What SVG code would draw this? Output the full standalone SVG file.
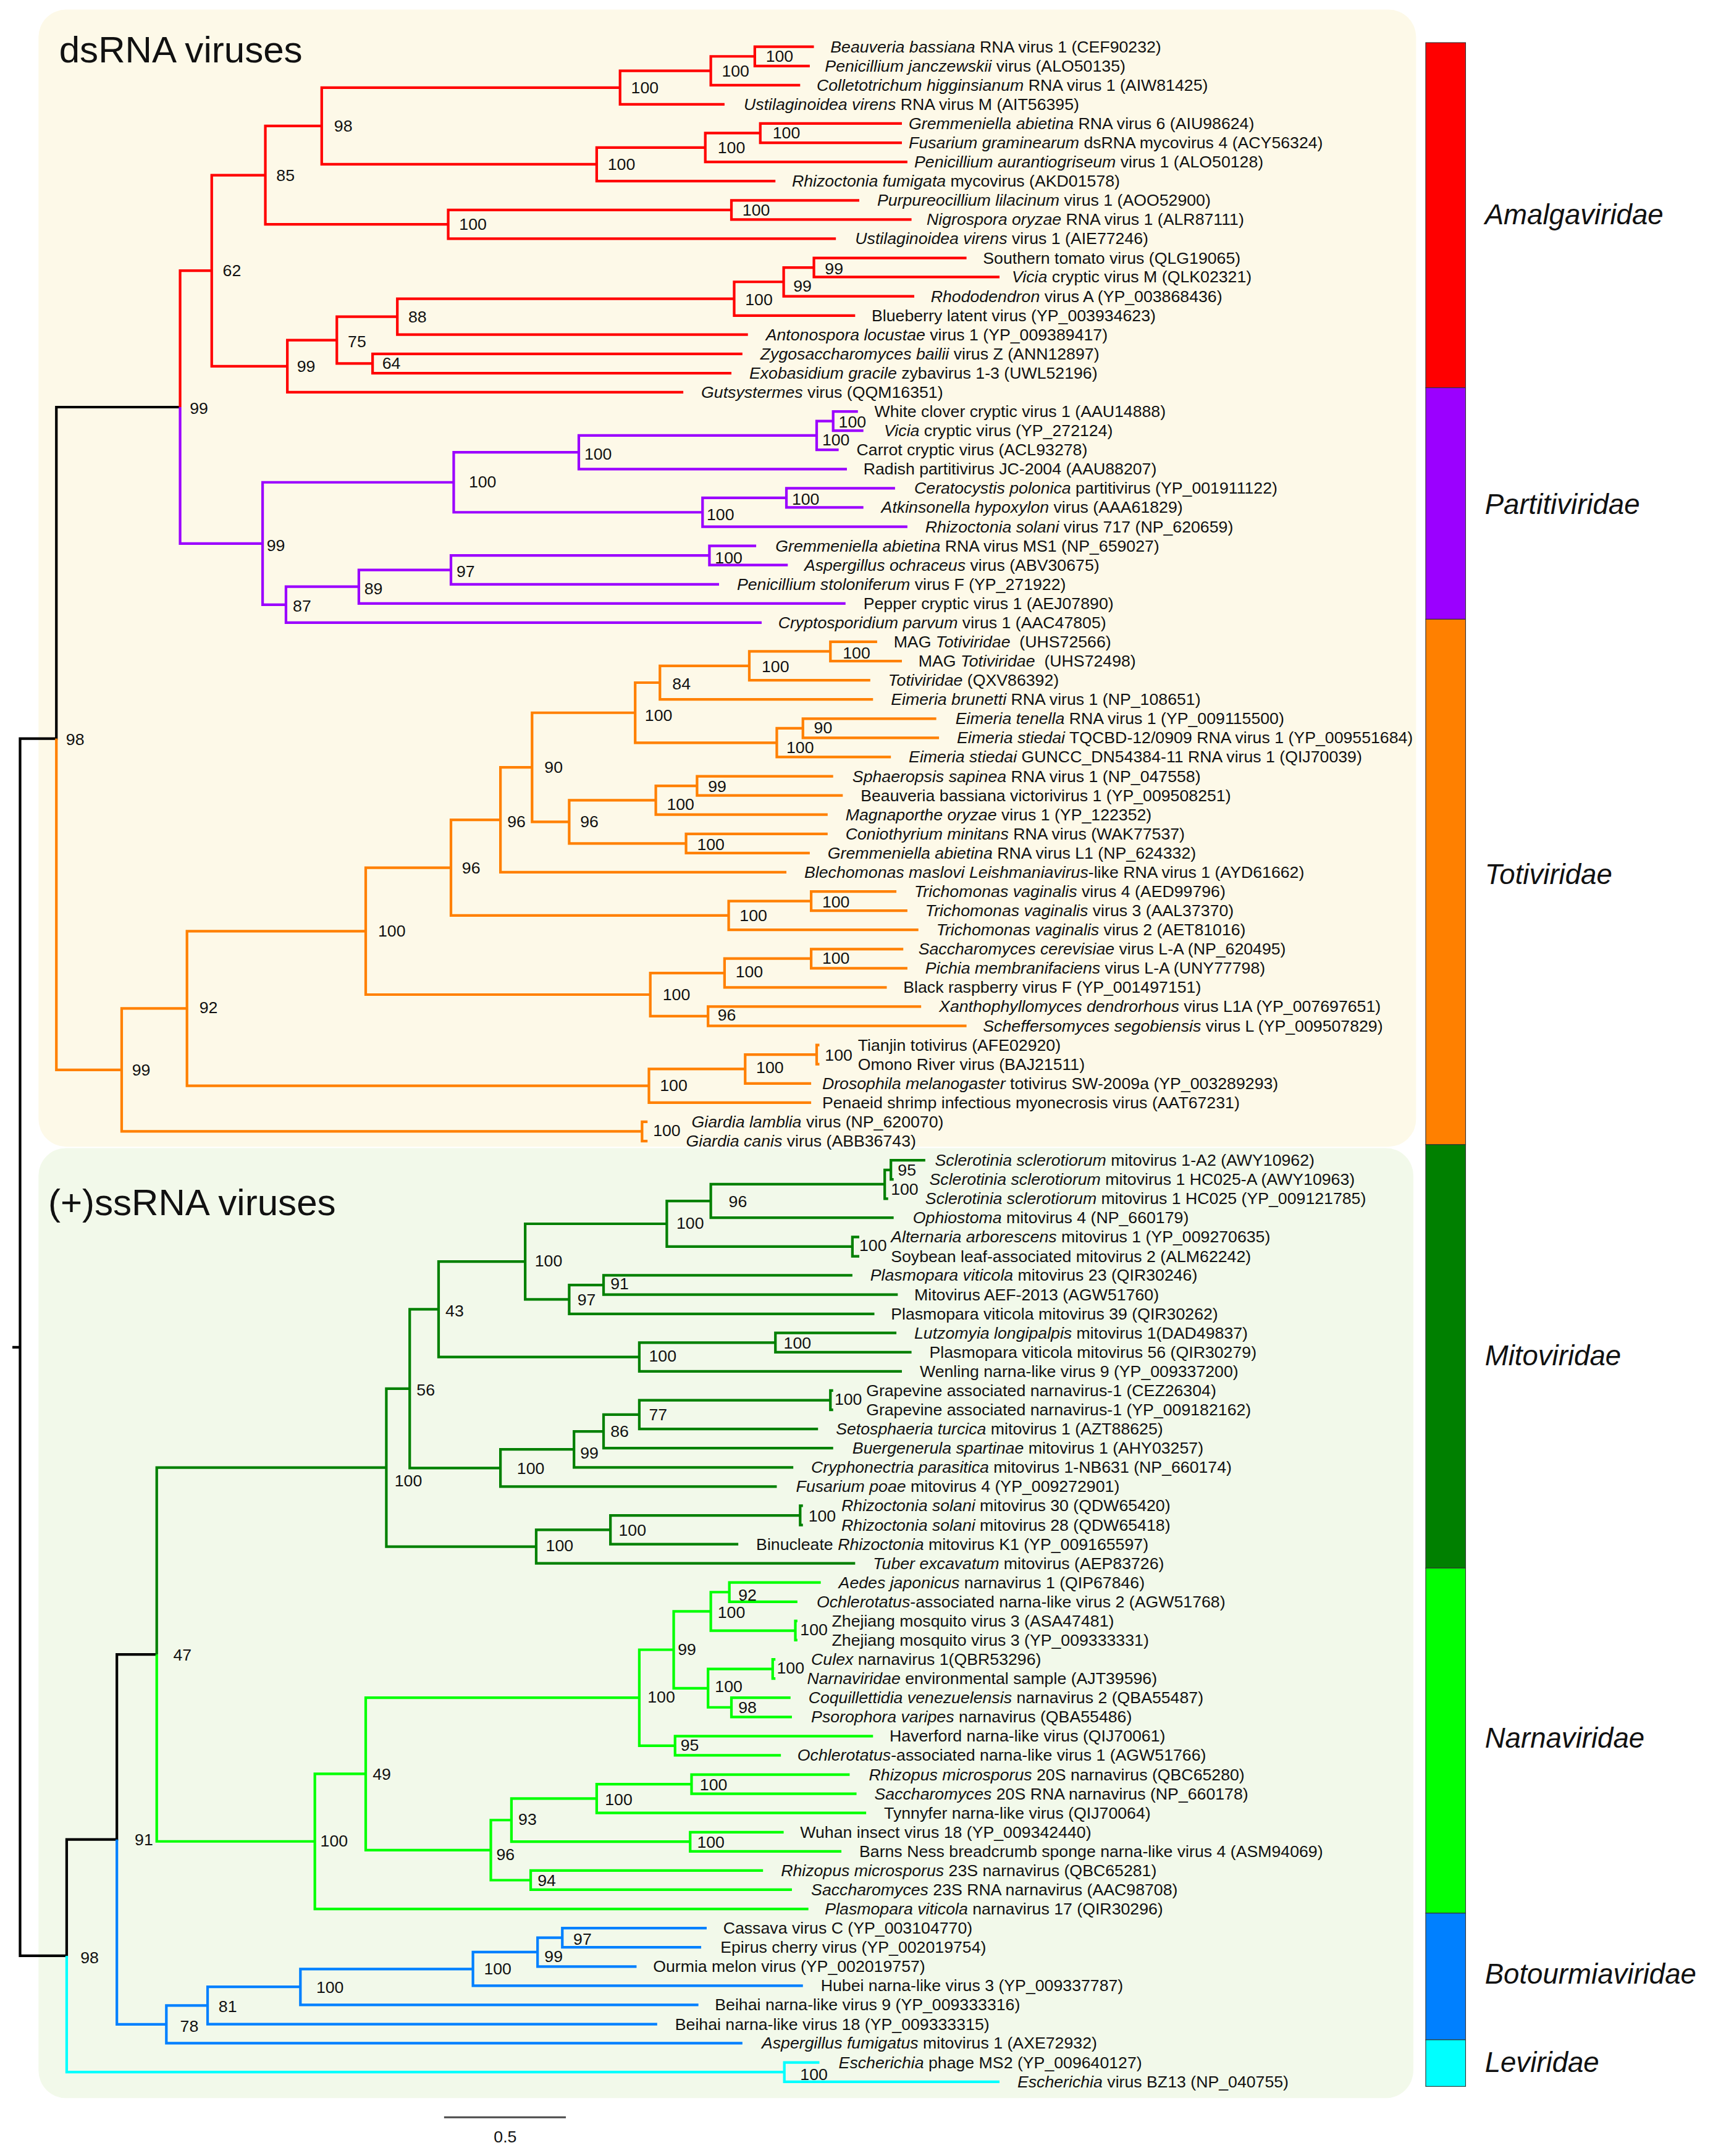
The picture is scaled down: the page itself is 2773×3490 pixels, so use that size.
<svg xmlns="http://www.w3.org/2000/svg" width="2773" height="3490" viewBox="0 0 2773 3490">
<style>
text{font-family:"Liberation Sans",Arial,Helvetica,sans-serif;fill:#111}
.t,.b{font-size:12px;dominant-baseline:central}
.i{font-style:italic}
.fam{font-size:20.5px;font-style:italic;dominant-baseline:central}
.ttl{font-size:27px}
.br{fill:none;stroke-width:1.9;stroke-linejoin:miter;stroke-linecap:butt}
.k{stroke:#000}.r{stroke:#FF0000}.p{stroke:#9B00FF}.o{stroke:#FF8000}.dg{stroke:#008000}.g{stroke:#00FF00}.bl{stroke:#0080FF}.c{stroke:#00FFFF}
.seg{stroke:#333;stroke-width:0.5}
</style>
<rect width="2773" height="3490" fill="#FFFFFF"/>
<g transform="scale(2.2256)">
<g id="panels">
<rect x="28" y="7" width="1002" height="827" rx="20" fill="#FDF9E8"/>
<rect x="28" y="835" width="1000" height="691" rx="20" fill="#F2F9EA"/>
<text class="ttl" x="43" y="45.5">dsRNA viruses</text>
<text class="ttl" x="35" y="884">(+)ssRNA viruses</text>
</g>
<g id="connectors">
<path class="br k" d="M131 296.1 H41 V537.2 H14.6 V1422.5 H48.5 V1337.9 H85 V1203.35 H114 M9 979.9 H14.6"/>
<path class="br r" d="M592 34 H549 V48 H589 M549 41 H517 V61.9 H582 M517 51.5 H451 V75.9 H527 M656 89.8 H553 V103.8 H656 M553 96.8 H513 V117.8 H660 M513 107.3 H434 V131.7 H564 M451 63.7 H234 V119.5 H434 M625 145.7 H532 V159.7 H663 M532 152.7 H326 V173.6 H608 M234 91.6 H193 V163.2 H326 M703 187.6 H592 V201.5 H727 M592 194.6 H570 V215.5 H665 M570 205 H534 V229.5 H622 M534 217.3 H289 V243.4 H544 M540 257.4 H271 V271.4 H532 M289 230.3 H245 V264.4 H271 M245 247.4 H209 V285.3 H497 M193 127.4 H154 V266.4 H209 M154 196.9 H131 V296.1"/>
<path class="br p" d="M131 296.1 V395.3 H191 M624 299.3 H606 V313.2 H628 M606 306.3 H594 V327.2 H610 M594 316.7 H421 V341.2 H616 M651 355.1 H572 V369.1 H628 M572 362.1 H511 V383.1 H660 M421 329 H330 V372.6 H511 M550 397 H516 V411 H573 M516 404 H328 V425 H523 M328 414.5 H261 V438.9 H615 M261 426.7 H208 V452.9 H554 M330 350.8 H191 V439.8 H208"/>
<path class="br o" d="M41 537.2 V778.2 H88.5 M638 466.8 H604 V480.8 H656 M604 473.8 H545 V494.8 H633 M545 484.3 H480 V508.7 H635 M681 522.7 H584 V536.7 H683 M584 529.7 H565 V550.6 H648 M480 496.5 H462 V540.2 H565 M606 564.6 H507 V578.6 H613 M507 571.6 H477 V592.5 H602 M602 606.5 H499 V620.4 H589 M477 582 H414 V613.5 H499 M462 518.4 H387 V597.8 H414 M387 558.1 H364 V634.4 H572 M652 648.4 H590 V662.3 H660 M590 655.4 H530 V676.3 H668 M364 596.3 H328 V665.8 H530 M657 690.3 H590 V704.2 H660 M590 697.2 H527 V718.2 H645 M670 732.1 H515 V746.1 H703 M527 707.7 H473 V739.1 H515 M328 631.1 H266 V723.4 H473 M596 760.1 H594 V774 H596 M594 767 H542 V788 H590 M542 777.5 H472 V802 H590 M266 677.3 H136 V789.7 H472 M471 815.9 H467 V829.9 H471 M136 733.5 H88.5 V822.9 H467"/>
<path class="br dg" d="M114 1203.35 V1067.4 H281 M673 843.9 H648 V857.8 H650 M648 850.9 H643.5 V871.8 H646 M643.5 861.3 H517 V885.7 H650 M625 899.7 H620 V913.7 H625 M517 873.5 H485 V906.7 H620 M620 927.6 H439 V941.6 H653 M439 934.6 H414 V955.6 H636 M485 890.1 H382 V945.1 H414 M652 969.5 H564 V983.5 H663 M564 976.5 H465 V997.4 H656 M382 917.6 H319 V987 H465 M606 1011.4 H604 V1025.4 H606 M604 1018.4 H465 V1039.3 H595 M465 1028.9 H439 V1053.3 H606 M439 1041.1 H417.5 V1067.3 H577 M417.5 1054.2 H364 V1081.2 H565 M319 952.3 H298 V1067.7 H364 M584 1095.2 H582 V1109.2 H584 M582 1102.2 H444 V1123.1 H537 M444 1112.7 H390 V1137.1 H622 M298 1010 H281 V1124.9 H390"/>
<path class="br g" d="M114 1203.35 V1339.3 H229 M597 1151 H530.5 V1165 H580 M580 1179 H578.5 V1192.9 H580 M530.5 1158 H517 V1186 H578.5 M564 1206.9 H562 V1220.9 H564 M575 1234.8 H532 V1248.8 H576 M562 1213.9 H515 V1241.8 H532 M517 1172 H490 V1227.9 H515 M635 1262.7 H491 V1276.7 H568 M490 1199.9 H465 V1269.7 H491 M618 1290.7 H503 V1304.6 H623 M503 1297.7 H434 V1318.6 H630 M570 1332.6 H502 V1346.5 H612 M434 1308.1 H372 V1339.5 H502 M555 1360.5 H386 V1374.4 H576 M372 1323.8 H357 V1367.5 H386 M465 1234.8 H266 V1345.6 H357 M266 1290.2 H229 V1388.4 H588"/>
<path class="br bl" d="M85 1337.9 V1472.4 H121 M514 1402.4 H409 V1416.3 H510 M409 1409.35 H391 V1430.3 H463 M391 1419.8 H344 V1444.3 H584 M344 1432.1 H218.5 V1458.2 H508 M218.5 1445.1 H151 V1472.2 H478 M151 1458.7 H121 V1486.1 H540"/>
<path class="br c" d="M48.5 1422.5 V1507.1 H570.5 M596 1500.1 H570.5 V1514.1 H727"/>
</g>
<g id="support">
<text class="b" x="557" y="41">100</text><text class="b" x="525" y="51.5">100</text><text class="b" x="459" y="63.7">100</text><text class="b" x="562" y="96.8">100</text><text class="b" x="522" y="107.3">100</text><text class="b" x="442" y="119.5">100</text><text class="b" x="243" y="91.6">98</text><text class="b" x="540" y="152.7">100</text><text class="b" x="334" y="163.2">100</text><text class="b" x="201" y="127.4">85</text><text class="b" x="600" y="195.5">99</text><text class="b" x="577" y="207.9">99</text><text class="b" x="542" y="218">100</text><text class="b" x="297" y="230.7">88</text><text class="b" x="278" y="264.4">64</text><text class="b" x="253" y="248.6">75</text><text class="b" x="216" y="266.6">99</text><text class="b" x="162" y="197">62</text><text class="b" x="138" y="297">99</text>
<text class="b" x="610" y="307">100</text><text class="b" x="598" y="319.8">100</text><text class="b" x="425" y="330.3">100</text><text class="b" x="576" y="363">100</text><text class="b" x="514" y="374.5">100</text><text class="b" x="341" y="350.5">100</text><text class="b" x="520" y="405.6">100</text><text class="b" x="332" y="415.6">97</text><text class="b" x="265" y="428.4">89</text><text class="b" x="213" y="441">87</text><text class="b" x="194" y="396.6">99</text>
<text class="b" x="613" y="474.8">100</text><text class="b" x="554" y="485">100</text><text class="b" x="489" y="497.6">84</text><text class="b" x="592" y="529.4">90</text><text class="b" x="572" y="543.7">100</text><text class="b" x="469" y="520.5">100</text><text class="b" x="515" y="572">99</text><text class="b" x="485" y="584.9">100</text><text class="b" x="507" y="614">100</text><text class="b" x="422" y="597.6">96</text><text class="b" x="396" y="557.9">90</text><text class="b" x="369" y="597.6">96</text><text class="b" x="598" y="656">100</text><text class="b" x="538" y="666">100</text><text class="b" x="336" y="631.3">96</text><text class="b" x="598" y="697">100</text><text class="b" x="535" y="707">100</text><text class="b" x="522" y="738.4">96</text><text class="b" x="482" y="723.4">100</text><text class="b" x="275" y="677">100</text><text class="b" x="600" y="767.6">100</text><text class="b" x="550" y="776.6">100</text><text class="b" x="480" y="789.4">100</text><text class="b" x="145" y="733">92</text><text class="b" x="475" y="822.3">100</text><text class="b" x="96" y="778">99</text><text class="b" x="48" y="537.7">98</text>
<text class="b" x="653" y="850.8">95</text><text class="b" x="648" y="865">100</text><text class="b" x="530" y="874">96</text><text class="b" x="625" y="906">100</text><text class="b" x="492" y="889.8">100</text><text class="b" x="444" y="933.9">91</text><text class="b" x="420" y="945.2">97</text><text class="b" x="389" y="917">100</text><text class="b" x="570" y="976.6">100</text><text class="b" x="472" y="986.4">100</text><text class="b" x="324" y="953.4">43</text><text class="b" x="607" y="1017.8">100</text><text class="b" x="472" y="1029">77</text><text class="b" x="444" y="1041">86</text><text class="b" x="422" y="1056.7">99</text><text class="b" x="376" y="1068">100</text><text class="b" x="303" y="1011">56</text><text class="b" x="588" y="1102.4">100</text><text class="b" x="450" y="1112.9">100</text><text class="b" x="397" y="1124.1">100</text><text class="b" x="287" y="1077">100</text>
<text class="b" x="537" y="1160">92</text><text class="b" x="582" y="1185.5">100</text><text class="b" x="522" y="1172.8">100</text><text class="b" x="565" y="1213.2">100</text><text class="b" x="537" y="1241.7">98</text><text class="b" x="520" y="1226.7">100</text><text class="b" x="493" y="1199.8">99</text><text class="b" x="495" y="1269.4">95</text><text class="b" x="471" y="1234.2">100</text><text class="b" x="509" y="1297.9">100</text><text class="b" x="440" y="1309">100</text><text class="b" x="507" y="1339.8">100</text><text class="b" x="377" y="1323.3">93</text><text class="b" x="391" y="1367.5">94</text><text class="b" x="361" y="1348.8">96</text><text class="b" x="271" y="1290.4">49</text><text class="b" x="233" y="1339">100</text><text class="b" x="126" y="1203.5">47</text>
<text class="b" x="417" y="1410.2">97</text><text class="b" x="396" y="1423">99</text><text class="b" x="352" y="1431.9">100</text><text class="b" x="230" y="1445.4">100</text><text class="b" x="159" y="1459.6">81</text><text class="b" x="131" y="1473.8">78</text><text class="b" x="98" y="1338">91</text><text class="b" x="582" y="1509">100</text><text class="b" x="58.5" y="1423.7">98</text>
</g>
<g id="tips">
<g id="tip-1"><text class="t" x="604" y="34"><tspan class="i">Beauveria bassiana</tspan> RNA virus 1 (CEF90232)</text></g>
<g id="tip-2"><text class="t" x="600" y="48"><tspan class="i">Penicillium janczewskii</tspan> virus (ALO50135)</text></g>
<g id="tip-3"><text class="t" x="594" y="61.9"><tspan class="i">Colletotrichum higginsianum</tspan> RNA virus 1 (AIW81425)</text></g>
<g id="tip-4"><text class="t" x="541" y="75.9"><tspan class="i">Ustilaginoidea virens</tspan> RNA virus M (AIT56395)</text></g>
<g id="tip-5"><text class="t" x="661" y="89.8"><tspan class="i">Gremmeniella abietina</tspan> RNA virus 6 (AIU98624)</text></g>
<g id="tip-6"><text class="t" x="661" y="103.8"><tspan class="i">Fusarium graminearum</tspan> dsRNA mycovirus 4 (ACY56324)</text></g>
<g id="tip-7"><text class="t" x="665" y="117.8"><tspan class="i">Penicillium aurantiogriseum</tspan> virus 1 (ALO50128)</text></g>
<g id="tip-8"><text class="t" x="576" y="131.7"><tspan class="i">Rhizoctonia fumigata</tspan> mycovirus (AKD01578)</text></g>
<g id="tip-9"><text class="t" x="638" y="145.7"><tspan class="i">Purpureocillium lilacinum</tspan> virus 1 (AOO52900)</text></g>
<g id="tip-10"><text class="t" x="674" y="159.7"><tspan class="i">Nigrospora oryzae</tspan> RNA virus 1 (ALR87111)</text></g>
<g id="tip-11"><text class="t" x="622" y="173.6"><tspan class="i">Ustilaginoidea virens</tspan> virus 1 (AIE77246)</text></g>
<g id="tip-12"><text class="t" x="715" y="187.6">Southern tomato virus (QLG19065)</text></g>
<g id="tip-13"><text class="t" x="736" y="201.5"><tspan class="i">Vicia</tspan> cryptic virus M (QLK02321)</text></g>
<g id="tip-14"><text class="t" x="677" y="215.5"><tspan class="i">Rhododendron</tspan> virus A (YP_003868436)</text></g>
<g id="tip-15"><text class="t" x="634" y="229.5">Blueberry latent virus (YP_003934623)</text></g>
<g id="tip-16"><text class="t" x="557" y="243.4"><tspan class="i">Antonospora locustae</tspan> virus 1 (YP_009389417)</text></g>
<g id="tip-17"><text class="t" x="553" y="257.4"><tspan class="i">Zygosaccharomyces bailii</tspan> virus Z (ANN12897)</text></g>
<g id="tip-18"><text class="t" x="545" y="271.4"><tspan class="i">Exobasidium gracile</tspan> zybavirus 1-3 (UWL52196)</text></g>
<g id="tip-19"><text class="t" x="510" y="285.3"><tspan class="i">Gutsystermes</tspan> virus (QQM16351)</text></g>
<g id="tip-20"><text class="t" x="636" y="299.3">White clover cryptic virus 1 (AAU14888)</text></g>
<g id="tip-21"><text class="t" x="643" y="313.2"><tspan class="i">Vicia</tspan> cryptic virus (YP_272124)</text></g>
<g id="tip-22"><text class="t" x="623" y="327.2">Carrot cryptic virus (ACL93278)</text></g>
<g id="tip-23"><text class="t" x="628" y="341.2">Radish partitivirus JC-2004 (AAU88207)</text></g>
<g id="tip-24"><text class="t" x="665" y="355.1"><tspan class="i">Ceratocystis polonica</tspan> partitivirus (YP_001911122)</text></g>
<g id="tip-25"><text class="t" x="641" y="369.1"><tspan class="i">Atkinsonella hypoxylon</tspan> virus (AAA61829)</text></g>
<g id="tip-26"><text class="t" x="673" y="383.1"><tspan class="i">Rhizoctonia solani</tspan> virus 717 (NP_620659)</text></g>
<g id="tip-27"><text class="t" x="564" y="397"><tspan class="i">Gremmeniella abietina</tspan> RNA virus MS1 (NP_659027)</text></g>
<g id="tip-28"><text class="t" x="585" y="411"><tspan class="i">Aspergillus ochraceus</tspan> virus (ABV30675)</text></g>
<g id="tip-29"><text class="t" x="536" y="425"><tspan class="i">Penicillium stoloniferum</tspan> virus F (YP_271922)</text></g>
<g id="tip-30"><text class="t" x="628" y="438.9">Pepper cryptic virus 1 (AEJ07890)</text></g>
<g id="tip-31"><text class="t" x="566" y="452.9"><tspan class="i">Cryptosporidium parvum</tspan> virus 1 (AAC47805)</text></g>
<g id="tip-32"><text class="t" x="650" y="466.8">MAG <tspan class="i">Totiviridae</tspan>&#160; (UHS72566)</text></g>
<g id="tip-33"><text class="t" x="668" y="480.8">MAG <tspan class="i">Totiviridae</tspan>&#160; (UHS72498)</text></g>
<g id="tip-34"><text class="t" x="646" y="494.8"><tspan class="i">Totiviridae</tspan> (QXV86392)</text></g>
<g id="tip-35"><text class="t" x="648" y="508.7"><tspan class="i">Eimeria brunetti</tspan> RNA virus 1 (NP_108651)</text></g>
<g id="tip-36"><text class="t" x="695" y="522.7"><tspan class="i">Eimeria tenella</tspan> RNA virus 1 (YP_009115500)</text></g>
<g id="tip-37"><text class="t" x="696" y="536.7"><tspan class="i">Eimeria stiedai</tspan> TQCBD-12/0909 RNA virus 1 (YP_009551684)</text></g>
<g id="tip-38"><text class="t" x="661" y="550.6"><tspan class="i">Eimeria stiedai</tspan> GUNCC_DN54384-11 RNA virus 1 (QIJ70039)</text></g>
<g id="tip-39"><text class="t" x="620" y="564.6"><tspan class="i">Sphaeropsis sapinea</tspan> RNA virus 1 (NP_047558)</text></g>
<g id="tip-40"><text class="t" x="626" y="578.6">Beauveria bassiana victorivirus 1 (YP_009508251)</text></g>
<g id="tip-41"><text class="t" x="615" y="592.5"><tspan class="i">Magnaporthe oryzae</tspan> virus 1 (YP_122352)</text></g>
<g id="tip-42"><text class="t" x="615" y="606.5"><tspan class="i">Coniothyrium minitans</tspan> RNA virus (WAK77537)</text></g>
<g id="tip-43"><text class="t" x="602" y="620.4"><tspan class="i">Gremmeniella abietina</tspan> RNA virus L1 (NP_624332)</text></g>
<g id="tip-44"><text class="t" x="585" y="634.4"><tspan class="i">Blechomonas maslovi Leishmaniavirus</tspan>-like RNA virus 1 (AYD61662)</text></g>
<g id="tip-45"><text class="t" x="665" y="648.4"><tspan class="i">Trichomonas vaginalis</tspan> virus 4 (AED99796)</text></g>
<g id="tip-46"><text class="t" x="673" y="662.3"><tspan class="i">Trichomonas vaginalis</tspan> virus 3 (AAL37370)</text></g>
<g id="tip-47"><text class="t" x="681" y="676.3"><tspan class="i">Trichomonas vaginalis</tspan> virus 2 (AET81016)</text></g>
<g id="tip-48"><text class="t" x="668" y="690.3"><tspan class="i">Saccharomyces cerevisiae</tspan> virus L-A (NP_620495)</text></g>
<g id="tip-49"><text class="t" x="673" y="704.2"><tspan class="i">Pichia membranifaciens</tspan> virus L-A (UNY77798)</text></g>
<g id="tip-50"><text class="t" x="657" y="718.2">Black raspberry virus F (YP_001497151)</text></g>
<g id="tip-51"><text class="t" x="683" y="732.1"><tspan class="i">Xanthophyllomyces dendrorhous</tspan> virus L1A (YP_007697651)</text></g>
<g id="tip-52"><text class="t" x="715" y="746.1"><tspan class="i">Scheffersomyces segobiensis</tspan> virus L (YP_009507829)</text></g>
<g id="tip-53"><text class="t" x="624" y="760.1">Tianjin totivirus (AFE02920)</text></g>
<g id="tip-54"><text class="t" x="624" y="774">Omono River virus (BAJ21511)</text></g>
<g id="tip-55"><text class="t" x="598" y="788"><tspan class="i">Drosophila melanogaster</tspan> totivirus SW-2009a (YP_003289293)</text></g>
<g id="tip-56"><text class="t" x="598" y="802">Penaeid shrimp infectious myonecrosis virus (AAT67231)</text></g>
<g id="tip-57"><text class="t" x="503" y="815.9"><tspan class="i">Giardia lamblia</tspan> virus (NP_620070)</text></g>
<g id="tip-58"><text class="t" x="499" y="829.9"><tspan class="i">Giardia canis</tspan> virus (ABB36743)</text></g>
<g id="tip-59"><text class="t" x="680" y="843.9"><tspan class="i">Sclerotinia sclerotiorum</tspan> mitovirus 1-A2 (AWY10962)</text></g>
<g id="tip-60"><text class="t" x="676" y="857.8"><tspan class="i">Sclerotinia sclerotiorum</tspan> mitovirus 1 HC025-A (AWY10963)</text></g>
<g id="tip-61"><text class="t" x="673" y="871.8"><tspan class="i">Sclerotinia sclerotiorum</tspan> mitovirus 1 HC025 (YP_009121785)</text></g>
<g id="tip-62"><text class="t" x="664" y="885.7"><tspan class="i">Ophiostoma</tspan> mitovirus 4 (NP_660179)</text></g>
<g id="tip-63"><text class="t" x="648" y="899.7"><tspan class="i">Alternaria arborescens</tspan> mitovirus 1 (YP_009270635)</text></g>
<g id="tip-64"><text class="t" x="648" y="913.7">Soybean leaf-associated mitovirus 2 (ALM62242)</text></g>
<g id="tip-65"><text class="t" x="633" y="927.6"><tspan class="i">Plasmopara viticola</tspan> mitovirus 23 (QIR30246)</text></g>
<g id="tip-66"><text class="t" x="665" y="941.6">Mitovirus AEF-2013 (AGW51760)</text></g>
<g id="tip-67"><text class="t" x="648" y="955.6">Plasmopara viticola mitovirus 39 (QIR30262)</text></g>
<g id="tip-68"><text class="t" x="665" y="969.5"><tspan class="i">Lutzomyia longipalpis</tspan> mitovirus 1(DAD49837)</text></g>
<g id="tip-69"><text class="t" x="676" y="983.5">Plasmopara viticola mitovirus 56 (QIR30279)</text></g>
<g id="tip-70"><text class="t" x="669" y="997.4">Wenling narna-like virus 9 (YP_009337200)</text></g>
<g id="tip-71"><text class="t" x="630" y="1011.4">Grapevine associated narnavirus-1 (CEZ26304)</text></g>
<g id="tip-72"><text class="t" x="630" y="1025.4">Grapevine associated narnavirus-1 (YP_009182162)</text></g>
<g id="tip-73"><text class="t" x="608" y="1039.3"><tspan class="i">Setosphaeria turcica</tspan> mitovirus 1 (AZT88625)</text></g>
<g id="tip-74"><text class="t" x="620" y="1053.3"><tspan class="i">Buergenerula spartinae</tspan> mitovirus 1 (AHY03257)</text></g>
<g id="tip-75"><text class="t" x="590" y="1067.3"><tspan class="i">Cryphonectria parasitica</tspan> mitovirus 1-NB631 (NP_660174)</text></g>
<g id="tip-76"><text class="t" x="579" y="1081.2"><tspan class="i">Fusarium poae</tspan> mitovirus 4 (YP_009272901)</text></g>
<g id="tip-77"><text class="t" x="612" y="1095.2"><tspan class="i">Rhizoctonia solani</tspan> mitovirus 30 (QDW65420)</text></g>
<g id="tip-78"><text class="t" x="612" y="1109.2"><tspan class="i">Rhizoctonia solani</tspan> mitovirus 28 (QDW65418)</text></g>
<g id="tip-79"><text class="t" x="550" y="1123.1">Binucleate <tspan class="i">Rhizoctonia</tspan> mitovirus K1 (YP_009165597)</text></g>
<g id="tip-80"><text class="t" x="635" y="1137.1"><tspan class="i">Tuber excavatum</tspan> mitovirus (AEP83726)</text></g>
<g id="tip-81"><text class="t" x="610" y="1151"><tspan class="i">Aedes japonicus</tspan> narnavirus 1 (QIP67846)</text></g>
<g id="tip-82"><text class="t" x="594" y="1165"><tspan class="i">Ochlerotatus</tspan>-associated narna-like virus 2 (AGW51768)</text></g>
<g id="tip-83"><text class="t" x="605" y="1179">Zhejiang mosquito virus 3 (ASA47481)</text></g>
<g id="tip-84"><text class="t" x="605" y="1192.9">Zhejiang mosquito virus 3 (YP_009333331)</text></g>
<g id="tip-85"><text class="t" x="590" y="1206.9"><tspan class="i">Culex</tspan> narnavirus 1(QBR53296)</text></g>
<g id="tip-86"><text class="t" x="587" y="1220.9"><tspan class="i">Narnaviridae</tspan> environmental sample (AJT39596)</text></g>
<g id="tip-87"><text class="t" x="588" y="1234.8"><tspan class="i">Coquillettidia venezuelensis</tspan> narnavirus 2 (QBA55487)</text></g>
<g id="tip-88"><text class="t" x="590" y="1248.8"><tspan class="i">Psorophora varipes</tspan> narnavirus (QBA55486)</text></g>
<g id="tip-89"><text class="t" x="647" y="1262.7">Haverford narna-like virus (QIJ70061)</text></g>
<g id="tip-90"><text class="t" x="580" y="1276.7"><tspan class="i">Ochlerotatus</tspan>-associated narna-like virus 1 (AGW51766)</text></g>
<g id="tip-91"><text class="t" x="632" y="1290.7"><tspan class="i">Rhizopus microsporus</tspan> 20S narnavirus (QBC65280)</text></g>
<g id="tip-92"><text class="t" x="636" y="1304.6"><tspan class="i">Saccharomyces</tspan> 20S RNA narnavirus (NP_660178)</text></g>
<g id="tip-93"><text class="t" x="643" y="1318.6">Tynnyfer narna-like virus (QIJ70064)</text></g>
<g id="tip-94"><text class="t" x="582" y="1332.6">Wuhan insect virus 18 (YP_009342440)</text></g>
<g id="tip-95"><text class="t" x="625" y="1346.5">Barns Ness breadcrumb sponge narna-like virus 4 (ASM94069)</text></g>
<g id="tip-96"><text class="t" x="568" y="1360.5"><tspan class="i">Rhizopus microsporus</tspan> 23S narnavirus (QBC65281)</text></g>
<g id="tip-97"><text class="t" x="590" y="1374.4"><tspan class="i">Saccharomyces</tspan> 23S RNA narnavirus (AAC98708)</text></g>
<g id="tip-98"><text class="t" x="600" y="1388.4"><tspan class="i">Plasmopara viticola</tspan> narnavirus 17 (QIR30296)</text></g>
<g id="tip-99"><text class="t" x="526" y="1402.4">Cassava virus C (YP_003104770)</text></g>
<g id="tip-100"><text class="t" x="524" y="1416.3">Epirus cherry virus (YP_002019754)</text></g>
<g id="tip-101"><text class="t" x="475" y="1430.3">Ourmia melon virus (YP_002019757)</text></g>
<g id="tip-102"><text class="t" x="597" y="1444.3">Hubei narna-like virus 3 (YP_009337787)</text></g>
<g id="tip-103"><text class="t" x="520" y="1458.2">Beihai narna-like virus 9 (YP_009333316)</text></g>
<g id="tip-104"><text class="t" x="491" y="1472.2">Beihai narna-like virus 18 (YP_009333315)</text></g>
<g id="tip-105"><text class="t" x="554" y="1486.1"><tspan class="i">Aspergillus fumigatus</tspan> mitovirus 1 (AXE72932)</text></g>
<g id="tip-106"><text class="t" x="610" y="1500.1"><tspan class="i">Escherichia</tspan> phage MS2 (YP_009640127)</text></g>
<g id="tip-107"><text class="t" x="740" y="1514.1"><tspan class="i">Escherichia</tspan> virus BZ13 (NP_040755)</text></g>
</g>
<g id="legend">
<rect class="seg" x="1037" y="31" width="29" height="251" fill="#FF0000"/>
<rect class="seg" x="1037" y="282" width="29" height="168.4" fill="#9B00FF"/>
<rect class="seg" x="1037" y="450.4" width="29" height="382.1" fill="#FF8000"/>
<rect class="seg" x="1037" y="832.5" width="29" height="308" fill="#008000"/>
<rect class="seg" x="1037" y="1140.5" width="29" height="251" fill="#00FF00"/>
<rect class="seg" x="1037" y="1391.5" width="29" height="92.1" fill="#0080FF"/>
<rect class="seg" x="1037" y="1483.6" width="29" height="33.9" fill="#00FFFF"/>
<text class="fam" x="1080" y="156">Amalgaviridae</text>
<text class="fam" x="1080" y="367">Partitiviridae</text>
<text class="fam" x="1080" y="636">Totiviridae</text>
<text class="fam" x="1080" y="986">Mitoviridae</text>
<text class="fam" x="1080" y="1264">Narnaviridae</text>
<text class="fam" x="1080" y="1436">Botourmiaviridae</text>
<text class="fam" x="1080" y="1500">Leviridae</text>
</g>
<g id="scale">
<line x1="323" y1="1540" x2="411.6" y2="1540" stroke="#555" stroke-width="1.5"/>
<text x="367.5" y="1554.4" font-size="12" text-anchor="middle" dominant-baseline="central">0.5</text>
</g>
</g>
</svg>
